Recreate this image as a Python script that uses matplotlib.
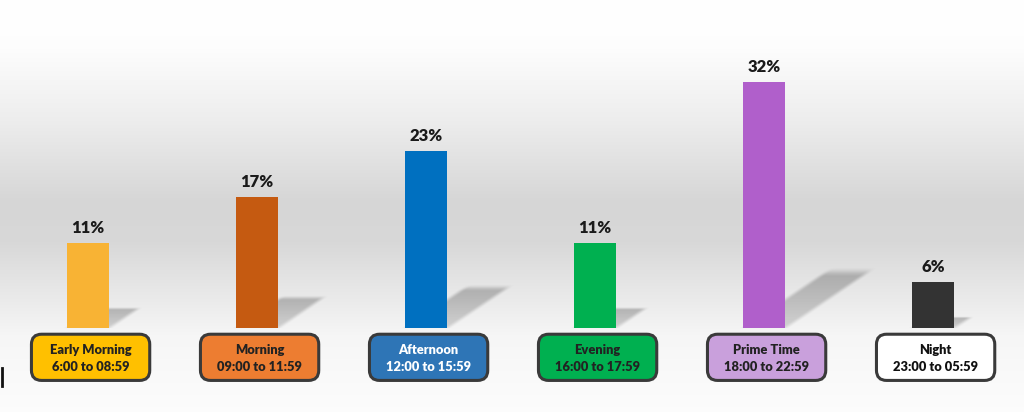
import numpy as np
import matplotlib
matplotlib.use("Agg")
import matplotlib.pyplot as plt
from matplotlib.patches import FancyBboxPatch
from matplotlib.lines import Line2D

categories = ["Early Morning", "Morning", "Afternoon", "Evening", "Prime Time", "Night"]
time_ranges = ["6:00 to 08:59", "09:00 to 11:59", "12:00 to 15:59",
               "16:00 to 17:59", "18:00 to 22:59", "23:00 to 05:59"]
values = [11, 17, 23, 11, 32, 6]
bar_colors = ["#F8B334", "#C55A11", "#0070C0", "#00B050", "#B05FCB", "#333333"]
box_colors = ["#FFC000", "#ED7D31", "#2E75B6", "#00B050", "#C9A0DC", "#FFFFFF"]
box_text_colors = ["#222222", "#222222", "#FFFFFF", "#222222", "#222222", "#111111"]

plt.rcParams['font.family'] = ['Lato', 'DejaVu Sans']

fig = plt.figure(figsize=(10.24, 4.12), dpi=100)
ax = fig.add_axes([0, 0, 1, 1])
XL = (-0.521, 5.538)
YL = (-10.9, 42.6)
ax.set_xlim(*XL)
ax.set_ylim(*YL)
ax.axis("off")

# background vertical gradient (pixel rows from top)
rows = np.arange(412)
knots_y = [0, 45, 120, 200, 240, 300, 335, 412]
knots_v = [1.0, 0.995, 0.93, 0.84, 0.845, 0.92, 0.965, 0.99]
shade = np.interp(rows, knots_y, knots_v)
img = np.repeat(shade[:, None], 10, axis=1)
img = np.dstack([img, img, img])
ax.imshow(img, extent=[XL[0], XL[1], YL[0], YL[1]], aspect="auto", zorder=0,
          interpolation="bilinear")

width = 0.25
x = np.arange(len(values))


def smooth(z):
    z = np.clip(z, 0, 1)
    return z * z * (3 - 2 * z)


# soft perspective shadows rendered as RGBA images
for xi, v in zip(x, values):
    dxr = 0.0155 * v
    dyr = 0.23 * v
    x0, x1 = xi - width / 2 - 0.06, xi + width / 2 + dxr + 0.08
    y0, y1 = 0.0, dyr + 1.2
    gx = np.linspace(x0, x1, 300)
    gy = np.linspace(y0, y1, 300)
    GX, GY = np.meshgrid(gx, gy)
    t = GY / dyr
    u = (GX - (xi - width / 2 + dxr * t)) / width
    su = 0.22
    edge_u = smooth((u + su / 2) / su) * smooth((1 + su / 2 - u) / su)
    edge_t = smooth((1.08 - t) / 0.18)
    a = (0.20 + 0.16 * np.clip(t, 0, 1)) * edge_u * edge_t
    rgba = np.zeros(GX.shape + (4,))
    rgba[..., :3] = 0.29
    rgba[..., 3] = a
    ax.imshow(rgba, extent=[x0, x1, y0, y1], origin="lower", aspect="auto",
              zorder=1, interpolation="bilinear")

ax.set_xlim(*XL)
ax.set_ylim(*YL)

bars = ax.bar(x, values, width=width, color=bar_colors, zorder=3)

for xi, v in zip(x, values):
    ax.text(xi, v + 0.9, f"{v}%", ha="center", va="bottom", fontsize=12,
            fontweight="heavy", color="#1a1a1a", zorder=4)

# label boxes
bw, bh = 0.70, 6.0
top = -0.8
for xi, cat, tr, fc, tc in zip(x, categories, time_ranges, box_colors, box_text_colors):
    box = FancyBboxPatch((xi + 0.015 - bw / 2, top - bh), bw, bh,
                         boxstyle="round,pad=0,rounding_size=0.06",
                         mutation_aspect=22,
                         facecolor=fc, edgecolor="#3a3a3a", linewidth=2.2, zorder=4)
    ax.add_patch(box)
    ax.text(xi + 0.015, top - bh * 0.34, cat, ha="center", va="center", fontsize=9.3,
            fontweight="heavy", color=tc, zorder=5)
    ax.text(xi + 0.015, top - bh * 0.70, tr, ha="center", va="center", fontsize=9.3,
            fontweight="heavy", color=tc, zorder=5)

# small dark mark at the left edge of the original image
fig.add_artist(Line2D([2 / 1024, 2 / 1024], [1 - 368 / 412, 1 - 386 / 412],
                      color="#111111", linewidth=2, transform=fig.transFigure))

fig.savefig("out.png", dpi=100)
